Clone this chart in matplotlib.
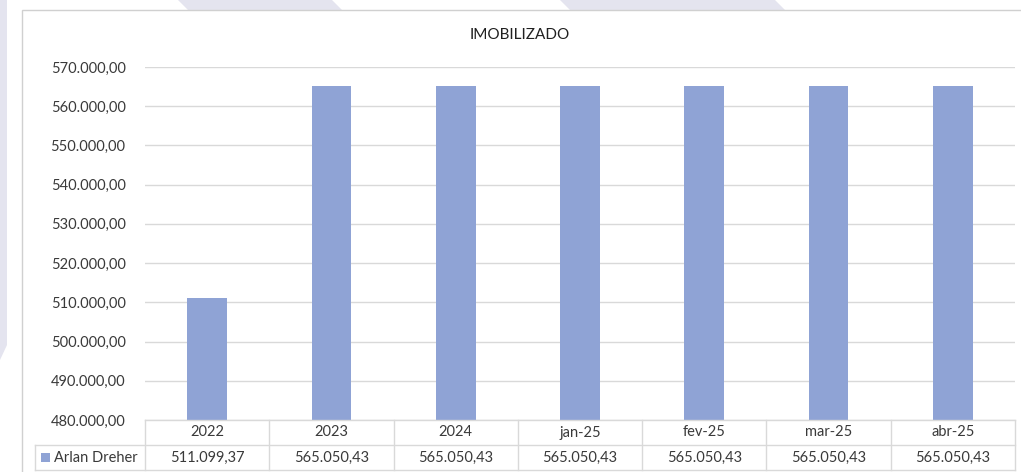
import matplotlib
matplotlib.use("Agg")
import matplotlib.pyplot as plt
from matplotlib.patches import Polygon, Rectangle
from matplotlib.lines import Line2D
import matplotlib.transforms as mtransforms

categories = ["2022", "2023", "2024", "jan-25", "fev-25", "mar-25", "abr-25"]
values = [511099.37, 565050.43, 565050.43, 565050.43, 565050.43, 565050.43, 565050.43]
series_name = "Arlan Dreher"
yticks = [480000, 490000, 500000, 510000, 520000, 530000, 540000, 550000, 560000, 570000]
title = "IMOBILIZADO"

bar_color = "#8FA3D5"
grid_color = "#D9D9D9"
text_color = "#3A3A3A"


def br(v):
    s = f"{v:,.2f}"
    return s.replace(",", "X").replace(".", ",").replace("X", ".")


plt.rcParams["font.family"] = ["Lato", "DejaVu Sans"]

W, H = 1021, 472
fig = plt.figure(figsize=(W / 100, H / 100), dpi=100)

# faint watermark shapes behind the chart box
wm = "#E4E4EF"
for pts in [
    [(178, 0), (332, 0), (342, 10), (188, 10)],
    [(560, 0), (775, 0), (785, 10), (570, 10)],
    [(0, 0), (7, 0), (7, 345), (0, 360)],
]:
    fig.add_artist(Polygon([(x / W, 1 - y / H) for x, y in pts], closed=True,
                           facecolor=wm, edgecolor="none", transform=fig.transFigure, zorder=0))

# chart box
fig.add_artist(Rectangle((22 / W, -0.01), 1.05, 1 - 10 / H + 0.01, facecolor="white",
                         edgecolor="#D0D0D0", linewidth=1, transform=fig.transFigure, zorder=0.5))

left, right, top, bottom = 145, 1015, 67, 420
ax = fig.add_axes([left / W, 1 - bottom / H, (right - left) / W, (bottom - top) / H])
ax.set_facecolor("none")
ax.set_zorder(1)

x = list(range(len(categories)))
ax.bar(x, values, width=0.32, color=bar_color, zorder=2)
ax.set_xlim(-0.5, len(categories) - 0.5)
ax.set_ylim(yticks[0], yticks[-1])
ax.set_yticks(yticks)
ax.set_yticklabels([br(t) for t in yticks], fontsize=10.5, color=text_color)
ax.tick_params(axis="y", length=0, pad=14)
ax.set_xticks([])
ax.grid(axis="y", color=grid_color, linewidth=1, zorder=0)
for s in ax.spines.values():
    s.set_visible(False)

fig.text(520 / W, 1 - 35 / H, title, ha="center", va="center", fontsize=11, color="#202020")

# data table under the plot
trans = mtransforms.blended_transform_factory(ax.transData, ax.transAxes)
row = 25 / (bottom - top)
unit = (right - left) / len(categories)
lab_left = -0.5 - (left - 35) / unit
tc = "#D9D9D9"
kw = dict(transform=trans, color=tc, linewidth=1, clip_on=False)
ax.add_line(Line2D([-0.5, len(categories) - 0.5], [0, 0], **kw))
ax.add_line(Line2D([lab_left, len(categories) - 0.5], [-row, -row], **kw))
ax.add_line(Line2D([lab_left, len(categories) - 0.5], [-2 * row, -2 * row], **kw))
ax.add_line(Line2D([lab_left, lab_left], [-row, -2 * row], **kw))
for b in range(len(categories) + 1):
    ax.add_line(Line2D([b - 0.5, b - 0.5], [0, -2 * row], **kw))

for i, (c, v) in enumerate(zip(categories, values)):
    ax.text(i, -row / 2, c, transform=trans, ha="center", va="center",
            fontsize=10.5, color=text_color, clip_on=False)
    ax.text(i, -1.5 * row, br(v), transform=trans, ha="center", va="center",
            fontsize=10.5, color=text_color, clip_on=False)

sq = 9 / unit
ax.add_patch(Rectangle((lab_left + 6 / unit, -1.5 * row - 4.5 / (bottom - top)), sq, 9 / (bottom - top),
                       transform=trans, facecolor=bar_color, edgecolor="none", clip_on=False))
ax.text(lab_left + 19 / unit, -1.5 * row, series_name, transform=trans, ha="left", va="center",
        fontsize=10.5, color=text_color, clip_on=False)

fig.savefig("out.png", dpi=100)
